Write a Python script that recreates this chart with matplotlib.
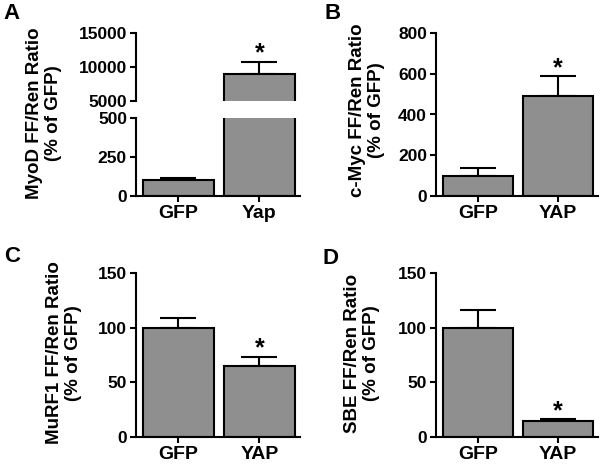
import matplotlib
matplotlib.use("Agg")
import matplotlib.pyplot as plt

plt.rcParams['font.family'] = ['Liberation Sans', 'DejaVu Sans']
plt.rcParams['font.weight'] = 'bold'
plt.rcParams['font.size'] = 12

# Dados (% do GFP)
grupos_a = ['GFP', 'Yap']
grupos = ['GFP', 'YAP']
myod = [100, 8900]
myod_err = [15, 1900]
cmyc = [100, 493]
cmyc_err = [38, 95]
murf1 = [100, 65]
murf1_err = [9, 8.5]
sbe = [100, 14.6]
sbe_err = [16, 2]

cor_barra = '#8f8f8f'
W, H = 600, 465


def rect(x0, y0, x1, y1):
    # pixels (origem no topo) -> fração da figura
    return [x0 / W, 1 - y1 / H, (x1 - x0) / W, (y1 - y0) / H]


def estilo(ax, base=True):
    for s in ['top', 'right']:
        ax.spines[s].set_visible(False)
    for s in ['left', 'bottom']:
        ax.spines[s].set_linewidth(1.5)
    ax.tick_params(width=1.5, length=4.5, direction='out', pad=2, labelsize=12.5)
    ax.set_xlim(-0.52, 1.5)
    if not base:
        ax.spines['bottom'].set_visible(False)
        ax.tick_params(axis='x', bottom=False, labelbottom=False)


def erro(ax, x, v, e):
    ax.errorbar(x, v, yerr=[[0], [e]], fmt='none', ecolor='black',
                elinewidth=1.5, capsize=13, capthick=1.5, zorder=1)


def estrela(ax, x, topo):
    ax.annotate('*', xy=(x, topo), xytext=(0, -3),
                textcoords='offset points', ha='center', va='bottom',
                fontsize=18, fontweight='bold')


def barras(ax, rotulos, valores, erros):
    x = range(len(valores))
    ax.bar(x, valores, width=0.87, color=cor_barra, edgecolor='black', linewidth=1.5, zorder=2)
    for xi, v, e in zip(x, valores, erros):
        erro(ax, xi, v, e)
    estrela(ax, 1, valores[1] + erros[1])
    ax.set_xticks(list(x))
    ax.set_xticklabels(rotulos, fontsize=14)


fig = plt.figure(figsize=(6, 4.65), dpi=100)

# A - eixo quebrado
ax_a1 = fig.add_axes(rect(136, 33, 300, 101))
ax_a2 = fig.add_axes(rect(136, 118, 300, 196))
for ax in (ax_a1, ax_a2):
    ax.bar(range(2), myod, width=0.87, color=cor_barra, edgecolor='black', linewidth=1.5, zorder=2)
estilo(ax_a1, base=False)
estilo(ax_a2)
ax_a1.set_ylim(5000, 15000)
ax_a1.set_yticks([5000, 10000, 15000])
ax_a2.set_ylim(0, 500)
ax_a2.set_yticks([0, 250, 500])
erro(ax_a1, 1, myod[1], myod_err[1])
erro(ax_a2, 0, myod[0], myod_err[0])
estrela(ax_a1, 1, myod[1] + myod_err[1])
ax_a2.set_xticks([0, 1])
ax_a2.set_xticklabels(grupos_a, fontsize=14)

# B
ax_b = fig.add_axes(rect(436, 33, 598, 196))
estilo(ax_b)
barras(ax_b, grupos, cmyc, cmyc_err)
ax_b.set_ylim(0, 800)
ax_b.set_yticks([0, 200, 400, 600, 800])

# C
ax_c = fig.add_axes(rect(136, 273, 300, 437))
estilo(ax_c)
barras(ax_c, grupos, murf1, murf1_err)
ax_c.set_ylim(0, 150)
ax_c.set_yticks([0, 50, 100, 150])

# D
ax_d = fig.add_axes(rect(436, 273, 598, 437))
estilo(ax_d)
barras(ax_d, grupos, sbe, sbe_err)
ax_d.set_ylim(0, 150)
ax_d.set_yticks([0, 50, 100, 150])

# rótulos do eixo y
rotulos_y = [
    ('MyoD FF/Ren Ratio\n(% of GFP)', 44, 113),
    ('c-Myc FF/Ren Ratio\n(% of GFP)', 367, 110),
    ('MuRF1 FF/Ren Ratio\n(% of GFP)', 64, 353),
    ('SBE FF/Ren Ratio\n(% of GFP)', 362, 353),
]
for txt, px, py in rotulos_y:
    fig.text(px / W, 1 - py / H, txt, rotation=90, ha='center', va='center',
             multialignment='center', fontsize=13.5, fontweight='bold', linespacing=1.1)

# letras dos painéis
for letra, px, py in [('A', 3, 3), ('B', 324, 3), ('C', 4, 246), ('D', 322, 248)]:
    fig.text(px / W, 1 - py / H, letra, ha='left', va='top', fontsize=16, fontweight='bold')

fig.savefig('out.png', dpi=100)
